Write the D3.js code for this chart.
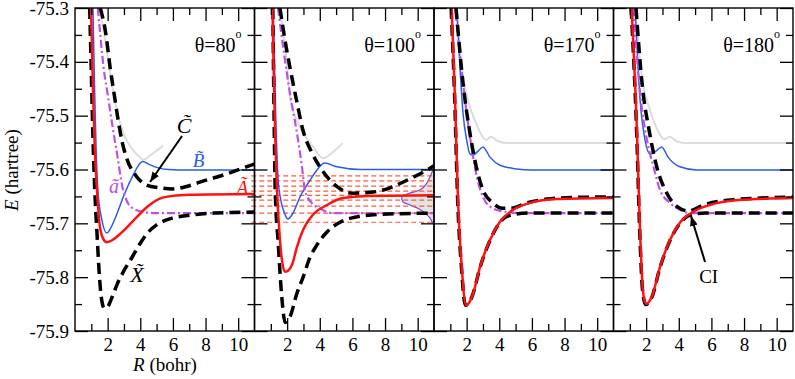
<!DOCTYPE html>
<html>
<head>
<meta charset="utf-8">
<style>
  body { margin: 0; background: #fff; }
  svg text { font-family: "Liberation Serif", Tinos, "Nimbus Roman", "Nimbus Roman No9 L", "Noto Serif", FreeSerif, "DejaVu Serif", "Times New Roman", Times, serif; }
</style>
</head>
<body>
<div id="chart"></div>
<script src="https://d3js.org/d3.v7.min.js"></script>
<script>
  // panel angles and ticks
  const thetas = ["80", "100", "170", "180"];
  const xMajor = [2, 4, 6, 8, 10];
  const xMinor = [1, 3, 5, 7, 9];
  const yMajor = [-75.3, -75.4, -75.5, -75.6, -75.7, -75.8, -75.9];
  const yMinor = [-75.35, -75.45, -75.55, -75.65, -75.75, -75.85];

  // curves: one list of [R, E] per panel
  const grayCurves = [
    [[1.5,-75.30],[1.8,-75.35],[2.1,-75.41],[2.5,-75.48],[3.0,-75.535],[3.5,-75.562],[4.0,-75.578],[4.2,-75.582],[4.6,-75.574],[5.0,-75.565],[5.4,-75.556]],
    [[1.6,-75.30],[1.9,-75.38],[2.2,-75.47],[2.8,-75.521],[3.6,-75.558],[4.2,-75.579],[4.75,-75.569],[5.4,-75.551]],
    [[1.39,-75.30],[1.7,-75.41],[2.08,-75.471],[2.6,-75.516],[3.0,-75.54],[3.2,-75.545],[3.5,-75.539],[3.9,-75.547],[4.5,-75.551],[11,-75.551]],
    [[1.32,-75.30],[1.8,-75.44],[2.24,-75.49],[2.75,-75.53],[3.1,-75.544],[3.45,-75.539],[3.9,-75.548],[4.5,-75.551],[11,-75.551]]
  ];
  const blueCurves = [
    [[1.1,-75.30],[1.2,-75.45],[1.3,-75.57],[1.4,-75.638],[1.65,-75.694],[1.95,-75.718],[2.2,-75.708],[2.6,-75.68],[3.0,-75.648],[3.5,-75.614],[4.15,-75.585],[4.5,-75.59],[5.0,-75.596],[5.7,-75.6],[7.0,-75.601],[11,-75.601]],
    [[1.15,-75.30],[1.3,-75.5],[1.45,-75.62],[1.6,-75.655],[1.85,-75.682],[2.05,-75.692],[2.36,-75.681],[2.79,-75.651],[3.4,-75.62],[3.83,-75.601],[4.3,-75.588],[5.05,-75.595],[6.5,-75.6],[11,-75.6]],
    [[1.39,-75.30],[1.59,-75.41],[1.78,-75.496],[2.0,-75.545],[2.2,-75.571],[2.4,-75.573],[2.7,-75.566],[3.0,-75.558],[3.43,-75.577],[4.04,-75.592],[5.06,-75.599],[6,-75.601],[11,-75.601]],
    [[1.32,-75.30],[1.63,-75.471],[1.93,-75.545],[2.24,-75.571],[2.6,-75.566],[2.95,-75.558],[3.34,-75.577],[4.07,-75.595],[5.1,-75.601],[11,-75.601]]
  ];
  const magentaCurves = [
    [[1.4,-75.30],[1.55,-75.35],[1.75,-75.41],[2.0,-75.46],[2.3,-75.52],[2.6,-75.575],[2.9,-75.632],[3.2,-75.66],[3.6,-75.673],[4.2,-75.679],[5.0,-75.681],[11,-75.681]],
    [[1.44,-75.30],[1.78,-75.378],[2.17,-75.458],[2.6,-75.532],[2.91,-75.595],[3.1,-75.64],[3.5,-75.662],[3.98,-75.672],[4.8,-75.681],[11,-75.681]],
    [[1.3,-75.30],[1.9,-75.471],[2.33,-75.564],[2.63,-75.614],[3.0,-75.651],[3.6,-75.672],[4.47,-75.679],[5.2,-75.681],[11,-75.681]],
    [[1.22,-75.30],[1.63,-75.458],[2.05,-75.545],[2.45,-75.595],[2.85,-75.638],[3.46,-75.662],[4.07,-75.675],[4.7,-75.681],[11,-75.681]]
  ];
  const redCurves = [
    [[0.98,-75.30],[1.1,-75.45],[1.2,-75.55],[1.35,-75.64],[1.5,-75.70],[1.7,-75.727],[1.95,-75.735],[2.3,-75.731],[2.6,-75.724],[3.2,-75.707],[3.8,-75.688],[4.4,-75.670],[5.2,-75.654],[6.0,-75.649],[7.0,-75.647],[11,-75.6455]],
    [[1.1,-75.30],[1.2,-75.45],[1.3,-75.57],[1.38,-75.638],[1.56,-75.731],[1.7,-75.772],[1.87,-75.79],[2.05,-75.788],[2.3,-75.777],[2.6,-75.744],[2.98,-75.712],[3.58,-75.684],[4.44,-75.666],[5.42,-75.653],[6.9,-75.649],[11,-75.648]],
    [[1.08,-75.30],[1.29,-75.471],[1.47,-75.657],[1.7,-75.781],[1.96,-75.852],[2.2,-75.845],[2.4,-75.83],[2.82,-75.781],[3.43,-75.731],[4.04,-75.697],[4.84,-75.675],[5.9,-75.662],[7.5,-75.655],[11,-75.653]],
    [[1.11,-75.30],[1.44,-75.532],[1.63,-75.718],[1.8,-75.824],[1.99,-75.85],[2.34,-75.837],[2.85,-75.781],[3.46,-75.731],[4.07,-75.699],[4.87,-75.679],[5.9,-75.666],[7.5,-75.657],[11,-75.653]]
  ];
  // black dashed, lower state (X)
  const lowerCurves = [
    [[0.9,-75.30],[1.0,-75.42],[1.1,-75.54],[1.2,-75.63],[1.35,-75.72],[1.5,-75.80],[1.65,-75.845],[1.8,-75.858],[2.0,-75.855],[2.3,-75.835],[2.6,-75.812],[3.0,-75.788],[3.5,-75.763],[4.0,-75.737],[4.5,-75.716],[5.0,-75.703],[6.0,-75.69],[7.0,-75.685],[8.5,-75.681],[11,-75.679]],
    [[1.12,-75.30],[1.2,-75.5],[1.27,-75.64],[1.45,-75.735],[1.68,-75.84],[1.88,-75.884],[2.17,-75.874],[2.6,-75.83],[2.98,-75.80],[3.4,-75.763],[3.83,-75.74],[4.44,-75.716],[5.24,-75.698],[6.28,-75.688],[7.87,-75.683],[11,-75.681]],
    [[1.05,-75.30],[1.27,-75.471],[1.45,-75.657],[1.68,-75.781],[1.92,-75.852],[2.2,-75.845],[2.4,-75.83],[2.82,-75.782],[3.43,-75.732],[4.04,-75.698],[4.66,-75.685],[5.7,-75.681],[11,-75.681]],
    [[1.08,-75.30],[1.42,-75.532],[1.61,-75.718],[1.78,-75.824],[1.97,-75.851],[2.34,-75.838],[2.85,-75.782],[3.46,-75.732],[4.07,-75.7],[4.75,-75.684],[5.6,-75.681],[11,-75.681]]
  ];
  // black dashed, upper state (C)
  const upperCurves = [
    [[1.55,-75.30],[1.9,-75.35],[2.15,-75.41],[2.4,-75.46],[2.6,-75.50],[2.9,-75.55],[3.2,-75.582],[3.7,-75.61],[4.4,-75.629],[5.2,-75.634],[6.0,-75.636],[6.9,-75.631],[7.7,-75.623],[8.7,-75.614],[9.7,-75.604],[10.5,-75.595],[11,-75.59]],
    [[1.56,-75.30],[1.87,-75.36],[2.17,-75.41],[2.6,-75.475],[2.97,-75.527],[3.52,-75.569],[4.14,-75.601],[5.06,-75.632],[6.04,-75.644],[7.26,-75.642],[8.3,-75.634],[9.34,-75.62],[10.9,-75.595],[11,-75.593]],
    [[1.35,-75.30],[1.78,-75.44],[2.2,-75.532],[2.63,-75.60],[3.0,-75.638],[3.6,-75.662],[4.2,-75.672],[4.7,-75.672],[5.7,-75.662],[6.9,-75.655],[8.5,-75.652],[11,-75.651]],
    [[1.38,-75.30],[1.75,-75.44],[2.2,-75.53],[2.65,-75.595],[3.27,-75.644],[3.9,-75.669],[4.6,-75.677],[5.5,-75.666],[6.95,-75.657],[9.0,-75.653],[11,-75.651]]
  ];

  // vibrational levels and wave packet (theta = 100)
  const vibLevels = [-75.612, -75.621, -75.631, -75.640, -75.648, -75.657, -75.668, -75.681, -75.698];
  const levelSpan = [-0.2, 11];
  const wavePacket = [[10.94,-75.601],[10.75,-75.614],[10.57,-75.625],[10.14,-75.638],[9.53,-75.644],[9.1,-75.649],[9.02,-75.653],[9.1,-75.66],[9.53,-75.666],[10.0,-75.672],[10.45,-75.681],[10.75,-75.69],[10.92,-75.70]];

  // labels (panel 1) and CI mark (panel 4)
  const stateLabels = [
    {t: "C\u0303", R: 6.68, E: -75.5322, c: "#000", s: 22},
    {t: "B\u0303", R: 7.57, E: -75.5954, c: "#2a5bea", s: 19},
    {t: "A\u0303", R: 10.26, E: -75.6474, c: "#ff1111", s: 20},
    {t: "a\u0303", R: 2.39, E: -75.6437, c: "#c04ee8", s: 20},
    {t: "X\u0303", R: 3.8, E: -75.809, c: "#000", s: 22}
  ];
  const arrowC = [[6.56, -75.5378], [4.6, -75.6232]];
  const arrowCI = [[5.61, -75.7718], [4.75, -75.6864]];
  const ciText = [5.83, -75.8108];

  const W = 795, H = 379;
  const topY = 8, bottomY = 331, left0 = 75, pw = 179.5;
  const serif = '"Liberation Serif", Tinos, "Nimbus Roman", "Noto Serif", FreeSerif, "DejaVu Serif", "Times New Roman", Times, serif';

  const svg = d3.select('#chart')
                .append('svg')
                .attr('width', W)
                .attr('height', H)
                .attr('font-family', serif);

  const defs = svg.append('defs');
  defs.append('marker')
      .attr('id', 'head')
      .attr('viewBox', '0 0 10 8')
      .attr('refX', 10)
      .attr('refY', 4)
      .attr('markerWidth', 10)
      .attr('markerHeight', 8)
      .attr('markerUnits', 'userSpaceOnUse')
      .attr('orient', 'auto')
      .append('path')
      .attr('d', 'M0,0 L10,4 L0,8 Z')
      .attr('fill', '#000');

  const y = d3.scaleLinear().domain([-75.9, -75.3]).range([bottomY, topY]);
  const xs = thetas.map((t, i) => d3.scaleLinear().domain([0, 11]).range([left0 + i * pw, left0 + (i + 1) * pw]));

  thetas.forEach((t, i) => {
    defs.append('clipPath').attr('id', 'clip' + i)
        .append('rect')
        .attr('x', xs[i](0)).attr('y', topY)
        .attr('width', pw).attr('height', bottomY - topY);
  });

  // wave packet + vib levels on panel 2
  const x2 = xs[1];
  const packet = svg.append('g').attr('clip-path', 'url(#clip1)');
  packet.append('path')
        .datum(wavePacket)
        .attr('d', d3.area().curve(d3.curveMonotoneY)
                  .y(d => y(d[1])).x0(x2(11)).x1(d => x2(d[0])))
        .attr('fill', '#dfe5e3');
  packet.append('path')
        .datum(wavePacket)
        .attr('d', d3.line().curve(d3.curveMonotoneY).x(d => x2(d[0])).y(d => y(d[1])))
        .attr('fill', 'none')
        .attr('stroke', '#7a44d8')
        .attr('stroke-width', 1.2);

  svg.append('g')
     .selectAll('line')
     .data(vibLevels)
     .enter()
     .append('line')
     .attr('x1', x2(levelSpan[0]))
     .attr('x2', x2(levelSpan[1]))
     .attr('y1', d => y(d))
     .attr('y2', d => y(d))
     .attr('stroke', '#ff5a3c')
     .attr('stroke-width', 1.2)
     .attr('stroke-dasharray', '5,3');

  // curve styles, in draw order
  const layers = [
    {data: grayCurves, color: '#dadddc', w: 2, dash: null},
    {data: blueCurves, color: '#2a5bea', w: 1.5, dash: null},
    {data: magentaCurves, color: '#c04ee8', w: 2.2, dash: '8,3,2,3'},
    {data: lowerCurves, color: '#000', w: 3.5, dash: '11,6'},
    {data: upperCurves, color: '#000', w: 3.5, dash: '11,6'},
    {data: redCurves, color: '#ff1111', w: 2.5, dash: null}
  ];

  thetas.forEach((t, i) => {
    const x = xs[i];
    const line = d3.line().curve(d3.curveMonotoneX).x(d => x(d[0])).y(d => y(d[1]));
    const g = svg.append('g').attr('clip-path', 'url(#clip' + i + ')');
    layers.forEach(L => {
      g.append('path')
       .datum(L.data[i])
       .attr('d', line)
       .attr('fill', 'none')
       .attr('stroke', L.color)
       .attr('stroke-width', L.w)
       .attr('stroke-dasharray', L.dash);
    });
  });

  // frames and ticks
  thetas.forEach((t, i) => {
    const x = xs[i];
    const x0 = x(0), x1 = x(11);
    const g = svg.append('g');
    const clean = a => a.call(s => s.select('.domain').remove());

    g.append('g').attr('transform', `translate(0,${bottomY})`)
     .call(d3.axisBottom(x).tickValues(xMajor).tickSize(-13).tickPadding(7).tickFormat(d3.format('d')))
     .call(clean);
    g.append('g').attr('transform', `translate(0,${bottomY})`)
     .call(d3.axisBottom(x).tickValues(xMinor).tickSize(-7).tickFormat(''))
     .call(clean);
    g.append('g').attr('transform', `translate(0,${topY})`)
     .call(d3.axisTop(x).tickValues(xMajor).tickSize(-13).tickFormat(''))
     .call(clean);
    g.append('g').attr('transform', `translate(0,${topY})`)
     .call(d3.axisTop(x).tickValues(xMinor).tickSize(-7).tickFormat(''))
     .call(clean);
    g.append('g').attr('transform', `translate(${x0},0)`)
     .call(d3.axisLeft(y).tickValues(yMajor).tickSize(-13).tickPadding(6)
             .tickFormat(i === 0 ? (d => d.toFixed(1)) : ''))
     .call(clean);
    g.append('g').attr('transform', `translate(${x0},0)`)
     .call(d3.axisLeft(y).tickValues(yMinor).tickSize(-7).tickFormat(''))
     .call(clean);
    g.append('g').attr('transform', `translate(${x1},0)`)
     .call(d3.axisRight(y).tickValues(yMajor).tickSize(-13).tickFormat(''))
     .call(clean);
    g.append('g').attr('transform', `translate(${x1},0)`)
     .call(d3.axisRight(y).tickValues(yMinor).tickSize(-7).tickFormat(''))
     .call(clean);

    g.selectAll('g').attr('font-family', serif);
    g.selectAll('.tick line').attr('stroke', '#000').attr('stroke-width', 1.3);
    g.selectAll('.tick text')
     .attr('font-family', serif)
     .attr('font-size', 19)
     .attr('fill', '#000');

    g.append('rect')
     .attr('x', x0).attr('y', topY)
     .attr('width', x1 - x0).attr('height', bottomY - topY)
     .attr('fill', 'none')
     .attr('stroke', '#000')
     .attr('stroke-width', 1.4);

    // panel title
    const tt = g.append('text')
                .attr('x', x1 - 13)
                .attr('y', 52)
                .attr('text-anchor', 'end')
                .attr('font-size', 20)
                .text('θ=' + t);
    tt.append('tspan').attr('font-size', 12).attr('dy', -14).text('o');
  });

  // axis titles
  svg.append('text')
     .attr('transform', 'translate(18,170) rotate(-90)')
     .attr('text-anchor', 'middle')
     .attr('font-size', 19)
     .html('<tspan font-style="italic">E</tspan> (hartree)');
  svg.append('text')
     .attr('x', 165)
     .attr('y', 371)
     .attr('text-anchor', 'middle')
     .attr('font-size', 19)
     .html('<tspan font-style="italic">R</tspan> (bohr)');

  // state labels (tilde as combining mark)
  const xa = xs[0];
  svg.append('g')
     .selectAll('text')
     .data(stateLabels)
     .enter()
     .append('text')
     .attr('x', d => xa(d.R))
     .attr('y', d => y(d.E))
     .attr('text-anchor', 'middle')
     .attr('font-style', 'italic')
     .attr('font-size', d => d.s)
     .attr('fill', d => d.c)
     .text(d => d.t);

  svg.append('line')
     .attr('x1', xa(arrowC[0][0])).attr('y1', y(arrowC[0][1]))
     .attr('x2', xa(arrowC[1][0])).attr('y2', y(arrowC[1][1]))
     .attr('stroke', '#000').attr('stroke-width', 2)
     .attr('marker-end', 'url(#head)');

  const x4 = xs[3];
  svg.append('line')
     .attr('x1', x4(arrowCI[0][0])).attr('y1', y(arrowCI[0][1]))
     .attr('x2', x4(arrowCI[1][0])).attr('y2', y(arrowCI[1][1]))
     .attr('stroke', '#000').attr('stroke-width', 2)
     .attr('marker-end', 'url(#head)');
  svg.append('text')
     .attr('x', x4(ciText[0])).attr('y', y(ciText[1]))
     .attr('text-anchor', 'middle')
     .attr('font-size', 19)
     .text('CI');
</script>
</body>
</html>
